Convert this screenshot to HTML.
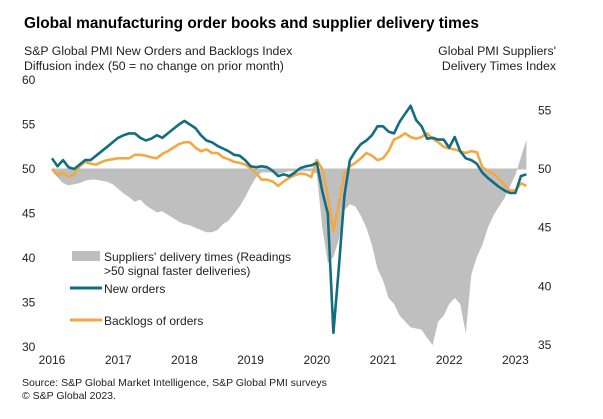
<!DOCTYPE html>
<html><head><meta charset="utf-8"><style>
body{margin:0;background:#fff;width:603px;height:419px;overflow:hidden;font-family:"Liberation Sans",Arial,sans-serif;}
svg{display:block}
</style></head><body>
<svg id="chart" width="603" height="419">
<text x="24" y="28" font-size="15.4" font-weight="bold" fill="#000">Global manufacturing order books and supplier delivery times</text>
<text x="24" y="55" font-size="12.3" fill="#222">S&amp;P Global PMI New Orders and Backlogs Index</text>
<text x="24" y="70" font-size="12.3" fill="#222">Diffusion index (50 = no change on prior month)</text>
<text x="556" y="55" font-size="12.3" fill="#222" text-anchor="end">Global PMI Suppliers'</text>
<text x="556" y="70" font-size="12.3" fill="#222" text-anchor="end">Delivery Times Index</text>
<g id="marks"></g>
<g id="axes"></g>
<rect x="72" y="251" width="28" height="10" fill="#bfbfbf"/>
<text x="104" y="261" font-size="12" fill="#222">Suppliers' delivery times (Readings</text>
<text x="104" y="275" font-size="12" fill="#222">&gt;50 signal faster deliveries)</text>
<line x1="70" y1="288" x2="102" y2="288" stroke="#136d80" stroke-width="3"/>
<text x="104" y="293" font-size="12" fill="#222">New orders</text>
<line x1="70" y1="320" x2="102" y2="320" stroke="#f2a945" stroke-width="3"/>
<text x="104" y="325" font-size="12" fill="#222">Backlogs of orders</text>
<text x="22" y="386" font-size="10.5" fill="#222">Source: S&amp;P Global Market Intelligence, S&amp;P Global PMI surveys</text>
<text x="22" y="399" font-size="10.5" fill="#222">© S&amp;P Global 2023.</text>
</svg>
<script>
const years=["2016","2017","2018","2019","2020","2021","2022","2023"];
const leftTicks=[30,35,40,45,50,55,60];
const rightTicks=[35,40,45,50,55];
const newOrders=[51.2,50.3,51,50.2,50,50.5,51,51,51.5,52,52.5,53,
53.5,53.8,54,54,53.5,53.2,53.4,53.8,53.5,54,54.5,55,
55.4,55,54.6,53.8,53.2,53,52.6,52.3,52,51.6,51.5,51,
50.3,50.2,50.3,50.2,49.8,49.2,49.4,49.2,49.6,50.1,50.3,50.4,
50.7,47.5,45,31.6,39,47,51,52,52.8,53.2,53.8,54.8,
54.8,54.2,54,55.3,56.2,57.1,55.5,54.8,53.4,53.5,53.3,53.3,
52.4,53.6,52,51.2,51,50.6,49.6,49,48.5,48,47.6,47.3,
47.3,49.2,49.4];
const backlogs=[50,49.3,49.6,49.1,49.4,50.3,50.8,50.6,50.5,50.8,51,51.1,
51.2,51.2,51.2,51.6,51.6,51.5,51.3,51.2,51.7,52,52.4,52.8,
53,53,52.4,52,52.2,51.8,51.8,51.3,51.1,50.8,50.7,50.5,
50.1,49.5,48.8,48.8,48.6,48.1,48.6,49,49.3,49.5,49.4,49.1,
51,50,47,43,46,49.5,50.3,50.7,51.2,51.8,51.5,51,
51.2,52,53.3,53.6,54,53.6,53.4,53.6,54,53.4,53,52.5,
52.3,52.2,52,51.8,52,51.9,50.2,49.8,49.5,48.9,48.2,47.6,
47.6,48.4,48.1];
const delivery=[49.8,49.3,48.8,48.6,48.7,48.8,49,49.1,49.1,49,48.9,48.7,
48.3,47.9,47.6,47.2,47.4,46.9,46.6,46.3,46.4,46.1,45.8,45.5,
45.3,45.2,45,44.8,44.6,44.6,44.8,45.3,45.6,46.2,46.8,47.6,
48.5,49.3,49.7,49.7,49.7,49.6,49.7,49.8,49.8,49.8,49.8,49.8,
49.6,45,42,42.5,44,46.5,47,46.8,46,45,43.5,41.5,
40.5,39,38.5,37.5,37,36.5,36.4,36.3,35.6,35,37,37.5,
38.5,39,38.5,36,41,42.5,43.5,45,46,46.8,47.5,48.5,
49.5,51,52.5];
const NS="http://www.w3.org/2000/svg";
const xM=i=>52+i*(66.2/12);
const yL=v=>169-(v-50)*8.9;
const yR=v=>169-(v-50)*11.73;
const marks=document.getElementById('marks'),axes=document.getElementById('axes');
function mk(t,a,p){const e=document.createElementNS(NS,t);for(const k in a)e.setAttribute(k,a[k]);p.appendChild(e);return e;}
let d="M"+xM(0)+","+yR(50);
delivery.forEach((v,i)=>{d+=" L"+xM(i).toFixed(1)+","+yR(v).toFixed(1);});
d+=" L"+xM(delivery.length-1)+","+yR(50)+" Z";
const area=mk('path',{d:d,fill:'#bfbfbf'},marks);


const base=mk('line',{x1:xM(0),x2:xM(delivery.length-1),y1:yR(50),y2:yR(50),stroke:'#bfbfbf','stroke-width':1},marks);


function line(arr,col,name){
 const p=mk('polyline',{points:arr.map((v,i)=>xM(i).toFixed(1)+","+yL(v).toFixed(1)).join(" "),fill:'none',stroke:col,'stroke-width':2.6,'stroke-linejoin':'round'},marks);
 
 
}
line(backlogs,'#f2a945','backlogs-line');
line(newOrders,'#136d80','new-orders-line');
leftTicks.forEach(v=>{const t=mk('text',{x:22,y:yL(v)+4,'font-size':12,fill:'#222'},axes);t.textContent=v;
 
 });
rightTicks.forEach(v=>{const t=mk('text',{x:538,y:yR(v)+4,'font-size':12,fill:'#222'},axes);t.textContent=v;
 
 });
years.forEach((y,i)=>{const t=mk('text',{x:xM(i*12),y:364,'font-size':12,fill:'#222','text-anchor':'middle'},axes);t.textContent=y;
 
 });
</script>
</body></html>
